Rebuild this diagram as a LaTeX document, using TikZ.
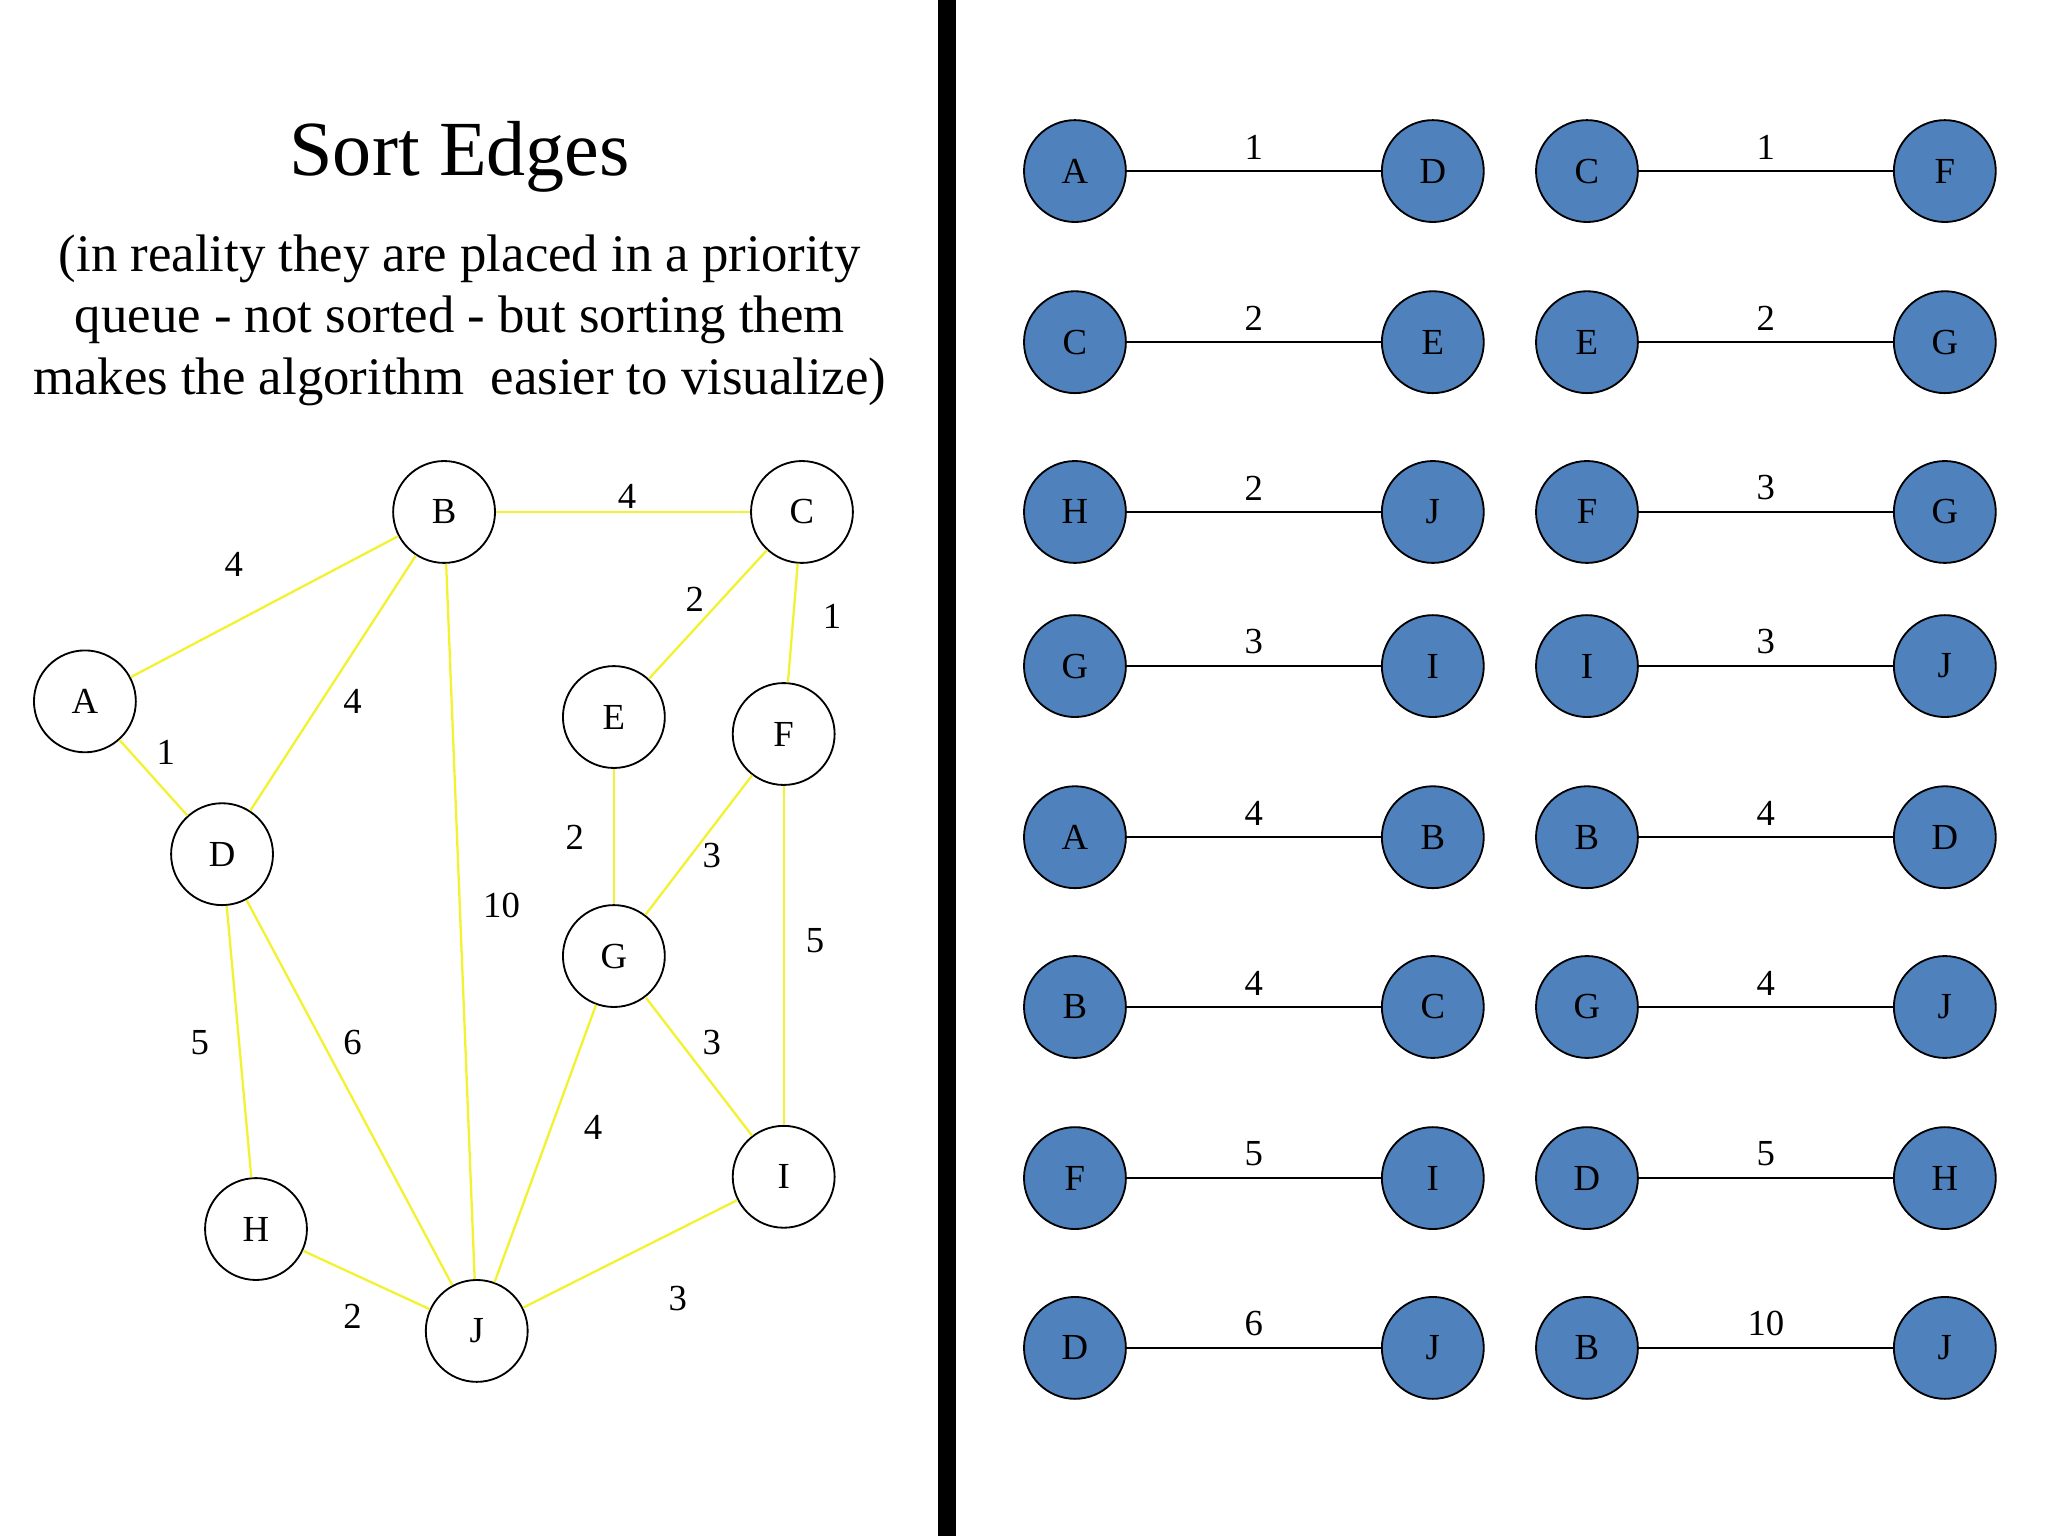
\documentclass[tikz,border=0pt]{standalone}
\usepackage{fontspec}
\setmainfont{Liberation Serif}
\usetikzlibrary{positioning}
\definecolor{nodeblue}{HTML}{4F81BD}
\definecolor{edgeyellow}{HTML}{F2F230}
\begin{document}
\begin{tikzpicture}[
  every node/.style={align=center, font=\fontsize{8}{9}\selectfont},
  vert/.style={circle, minimum size=0.78cm, inner sep=0pt, draw=black, fill=white},
  sorted/.style={circle, minimum size=0.78cm, inner sep=0pt, draw=black, fill=nodeblue},
  edge/.style={draw=edgeyellow, line width=0.5pt},
  link/.style={draw=black, line width=0.5pt},
  weight/.style={font=\fontsize{8}{9}\selectfont}
]
\useasboundingbox (0,0) rectangle (15.68,11.76);

% Divider
\fill[black] (7.18,0) rectangle (7.32,11.76);

% Title
\node[font=\fontsize{17}{20}\selectfont] (title) at (3.52,10.56) {Sort Edges};
\node[font=\fontsize{11.5}{13.4}\selectfont] (note) at (3.52,9.31)
  {(in reality they are placed in a priority\\ queue - not sorted - but sorting them\\ makes the algorithm\ \ easier to visualize)};

% Graph
\node[vert] (A) at (0.65,6.39) {A};
\node[vert] (B) at (3.40,7.84) {B};
\node[vert] (C) at (6.14,7.84) {C};
\node[vert] (D) at (1.70,5.22) {D};
\node[vert] (E) at (4.70,6.27) {E};
\node[vert] (F) at (6.00,6.14) {F};
\node[vert] (G) at (4.70,4.44) {G};
\node[vert] (H) at (1.96,2.35) {H};
\node[vert] (I) at (6.00,2.75) {I};
\node[vert] (J) at (3.65,1.57) {J};

\draw[edge] (A) -- (B);
\draw[edge] (B) -- (C);
\draw[edge] (A) -- (D);
\draw[edge] (B) -- (D);
\draw[edge] (B) -- (J);
\draw[edge] (C) -- (E);
\draw[edge] (C) -- (F);
\draw[edge] (E) -- (G);
\draw[edge] (F) -- (G);
\draw[edge] (F) -- (I);
\draw[edge] (D) -- (H);
\draw[edge] (D) -- (J);
\draw[edge] (G) -- (J);
\draw[edge] (G) -- (I);
\draw[edge] (H) -- (J);
\draw[edge] (J) -- (I);

\node[weight] (wAB) at (1.79,7.44) {4};
\node[weight] (wBC) at (4.80,7.96) {4};
\node[weight] (wAD) at (1.27,6.00) {1};
\node[weight] (wBD) at (2.70,6.39) {4};
\node[weight] (wBJ) at (3.84,4.83) {10};
\node[weight] (wCE) at (5.32,7.17) {2};
\node[weight] (wCF) at (6.37,7.04) {1};
\node[weight] (wEG) at (4.40,5.35) {2};
\node[weight] (wFG) at (5.45,5.21) {3};
\node[weight] (wFI) at (6.24,4.56) {5};
\node[weight] (wDH) at (1.53,3.78) {5};
\node[weight] (wDJ) at (2.70,3.78) {6};
\node[weight] (wGJ) at (4.54,3.13) {4};
\node[weight] (wGI) at (5.45,3.78) {3};
\node[weight] (wHJ) at (2.70,1.68) {2};
\node[weight] (wJI) at (5.19,1.82) {3};

% Sorted edges
\foreach \row/\y/\a/\b/\w/\c/\d/\v in {
  1/10.45/A/D/1/C/F/1,
  2/9.14/C/E/2/E/G/2,
  3/7.84/H/J/2/F/G/3,
  4/6.66/G/I/3/I/J/3,
  5/5.35/A/B/4/B/D/4,
  6/4.05/B/C/4/G/J/4,
  7/2.74/F/I/5/D/H/5,
  8/1.44/D/J/6/B/J/10} {
  \node[sorted] (l\row a) at (8.23,\y) {\a};
  \node[sorted] (l\row b) at (10.97,\y) {\b};
  \draw[link] (l\row a) -- node[weight, above=-1pt] {\w} (l\row b);
  \node[sorted] (r\row a) at (12.15,\y) {\c};
  \node[sorted] (r\row b) at (14.89,\y) {\d};
  \draw[link] (r\row a) -- node[weight, above=-1pt] {\v} (r\row b);
}
\end{tikzpicture}
\end{document}
